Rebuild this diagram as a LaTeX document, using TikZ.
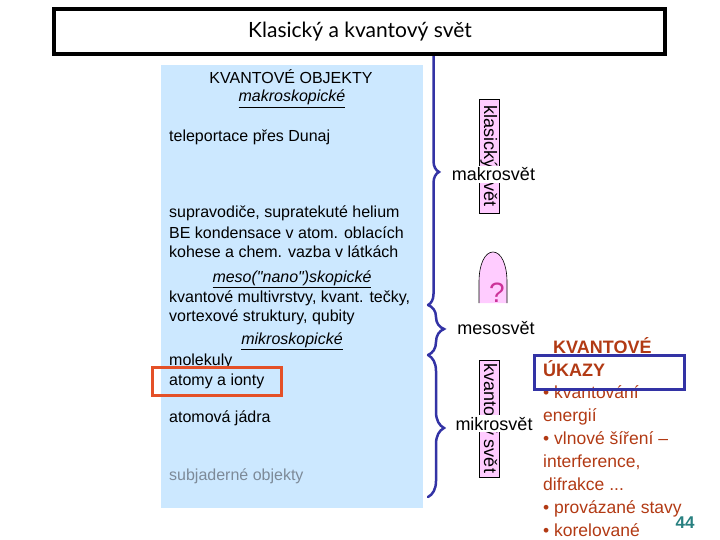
\documentclass[tikz,border=0pt]{standalone}
\usepackage{fontspec}
\setmainfont{Liberation Sans}
\newfontfamily\titlefont{Lato}
\usetikzlibrary{decorations.pathreplacing}
\definecolor{bluebox}{RGB}{204,232,255}
\definecolor{bracecol}{RGB}{51,51,165}
\definecolor{pinkf}{RGB}{255,204,255}
\definecolor{redtxt}{RGB}{178,58,20}
\definecolor{redbox}{RGB}{228,80,40}
\definecolor{graytxt}{RGB}{125,138,152}
\definecolor{teal44}{RGB}{40,128,128}
\definecolor{qmark}{RGB}{204,51,153}
\newcommand{\straightq}{{\addfontfeature{Ligatures=TeXOff}"}}
\begin{document}
\begin{tikzpicture}[x=1pt,y=-1pt,
  body/.style={anchor=base west, inner sep=0pt, font=\fontsize{16}{19}\selectfont},
  head/.style={anchor=base, inner sep=0pt, font=\fontsize{16}{19}\selectfont},
  bracepath/.style={draw=bracecol, line width=2.5pt, line cap=round, decorate},
  pinkbox/.style={draw=black, line width=0.6pt, fill=pinkf, rotate=-90, inner sep=0pt,
    minimum height=20pt, font=\fontsize{18}{18}\selectfont},
  lab/.style={anchor=base, fill=white, inner sep=1.5pt, font=\fontsize{18}{18}\selectfont},
  rt/.style={anchor=base west, inner sep=0pt, text=redtxt, font=\fontsize{17.5}{20}\selectfont},
  rtb/.style={anchor=base west, inner sep=0pt, text=redtxt, font=\fontsize{18}{20}\selectfont\bfseries}]
\useasboundingbox (0,0) rectangle (720,540);

% light blue panel
\fill[bluebox] (161,65) rectangle (423,508);

% left texts
\node[head] (kvo) at (291,84) {KVANTOVÉ OBJEKTY};
\node[head] (mak) at (292,102) {\underline{\textit{makroskopické}}};
\node[body] (tel) at (169,142) {teleportace přes Dunaj};
\node[body] (sup) at (169,218) {supravodiče, supratekuté helium};
\node[body] (bek) at (169,238) {BE kondensace v atom. oblacích};
\node[body] (koh) at (169,257) {kohese a chem. vazba v látkách};
\node[head] (meso) at (292,282) {\underline{\textit{meso(\straightq nano\straightq)skopické}}};
\node[body] (kmv) at (169,302) {kvantové multivrstvy, kvant. tečky,};
\node[body] (vor) at (169,321) {vortexové struktury, qubity};
\node[head] (mik) at (292,344) {\underline{\textit{mikroskopické}}};
\node[body] (mol) at (169,365) {molekuly};
\node[body] (ato) at (169,385) {atomy a ionty};
\node[body] (jad) at (169,422) {atomová jádra};
\node[body, text=graytxt] (sub) at (169,480) {subjaderné objekty};

% red frame
\draw[redbox, line width=3pt] (152,367) rectangle (281,395);

% braces
\draw[bracepath, decoration={brace, amplitude=11pt, aspect=0.498}] (428,40) -- (428,305);
\draw[bracepath, decoration={brace, amplitude=16pt, aspect=0.48}] (428,305) -- (428,355);
\draw[bracepath, decoration={brace, amplitude=16pt, aspect=0.514}] (428,355) -- (428,497);

% title frame
\draw[line width=4pt, fill=white] (54,8.7) rectangle (665,54.5);
\node[anchor=base, inner sep=0pt, font=\titlefont\fontsize{21}{21}\selectfont] (title) at (360,37.5) {Klasický a kvantový svět};

% pink boxes
\node[pinkbox, minimum width=114pt] (kls) at (489,156) {klasický svět};
\node[pinkbox, minimum width=117pt] (kvs) at (489,418.5) {kvantový svět};

% dome with question mark
\fill[pinkf] (479,303) -- (479,282) .. controls (479,264) and (485,252) .. (493,252)
  .. controls (501,252) and (507,264) .. (507,282) -- (507,303) -- cycle;
\draw[line width=0.6pt] (479,303) -- (479,282) .. controls (479,264) and (485,252) .. (493,252)
  .. controls (501,252) and (507,264) .. (507,282) -- (507,303);
\node[anchor=base, inner sep=0pt, text=qmark, font=\fontsize{28}{28}\selectfont] (q) at (497,302) {?};

% labels
\node[lab] (makro) at (493.5,181) {makrosvět};
\node[lab] (mesos) at (496,334) {mesosvět};
\node[lab] (mikro) at (494,430) {mikrosvět};

% right texts
\node[rtb] (kv) at (553,353) {KVANTOVÉ};
\node[rtb] (uk) at (543,376) {ÚKAZY};
\node[rt] (b1) at (543,398) {• kvantování};
\node[rt] (b1b) at (543,421) {energií};
\node[rt] (b2) at (543,444) {• vlnové šíření –};
\node[rt] (b2b) at (543,467) {interference,};
\node[rt] (b2c) at (543,490) {difrakce ...};
\node[rt] (b3) at (543,513) {• provázané stavy};
\node[rt] (b4) at (543,536) {• korelované};

\draw[bracecol, line width=3pt] (534,355) rectangle (684,389);

\node[anchor=base, inner sep=0pt, text=teal44, font=\fontsize{17}{17}\selectfont\bfseries] (n44) at (685,528) {44};
\end{tikzpicture}
\end{document}
